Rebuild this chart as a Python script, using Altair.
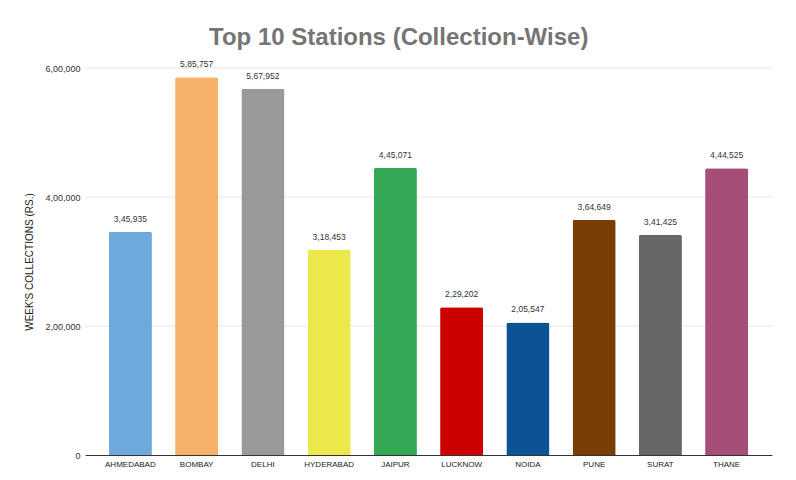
import altair as alt
import pandas as pd

stations = ["AHMEDABAD", "BOMBAY", "DELHI", "HYDERABAD", "JAIPUR",
            "LUCKNOW", "NOIDA", "PUNE", "SURAT", "THANE"]
collections = [345935, 585757, 567952, 318453, 445071,
               229202, 205547, 364649, 341425, 444525]
value_labels = ["3,45,935", "5,85,757", "5,67,952", "3,18,453", "4,45,071",
                "2,29,202", "2,05,547", "3,64,649", "3,41,425", "4,44,525"]
colors = ["#6fa8dc", "#f6b26b", "#999999", "#eae84a", "#34a853",
          "#cc0000", "#0b5394", "#783f04", "#666666", "#a64d79"]
y_ticks = [0, 200000, 400000, 600000]
y_tick_labels = ["0", "2,00,000", "4,00,000", "6,00,000"]

df = pd.DataFrame({"station": stations, "value": collections, "label": value_labels})
grid_df = pd.DataFrame({"tick": y_ticks[1:]})

label_expr = " : ".join(
    f"datum.value == {v} ? '{l}'" for v, l in zip(y_ticks, y_tick_labels)
) + " : ''"

FONT = "Liberation Sans"

x = alt.X("station:N", sort=stations, title=None,
          scale=alt.Scale(paddingInner=0.35, paddingOuter=0.36),
          axis=alt.Axis(labelAngle=0, labelFontSize=8, labelColor="#222222",
                        ticks=False, grid=False, domainColor="#333333", labelPadding=5,
                        labelFont=FONT))
y = alt.Y("value:Q", title="WEEK'S COLLECTIONS (RS.)",
          scale=alt.Scale(domain=[0, 600000], nice=False),
          axis=alt.Axis(values=y_ticks, labelExpr=label_expr, ticks=False,
                        domain=False, grid=False, labelFontSize=9,
                        labelColor="#333333", labelPadding=5, labelFont=FONT,
                        titleFont=FONT, titleFontSize=10, titleFontWeight="normal",
                        titleColor="#222222", titlePadding=10))

grid = alt.Chart(grid_df).mark_rule(color="#e6e6e6", strokeWidth=1).encode(
    y=alt.Y("tick:Q")
)

base = alt.Chart(df).encode(x=x, y=y)

bars = base.mark_bar(cornerRadiusTopLeft=2, cornerRadiusTopRight=2).encode(
    color=alt.Color("station:N", sort=stations,
                    scale=alt.Scale(domain=stations, range=colors), legend=None),
)
text = base.mark_text(dy=-13, fontSize=8.5, font=FONT, color="#333333").encode(
    text="label:N",
)

chart = alt.layer(grid, bars, text).properties(
    width=687, height=387,
    title=alt.TitleParams("Top 10 Stations (Collection-Wise)", font=FONT, fontSize=24,
                          fontWeight="bold", color="#757575", anchor="middle",
                          frame="bounds", offset=10),
    autosize=alt.AutoSizeParams(type="none"),
    padding={"left": 77, "top": 60, "right": 16, "bottom": 17},
    background="white",
).configure_view(strokeWidth=0, stroke="transparent").configure_axisX(grid=False)

chart.save("out.html", embed_options={"renderer": "svg", "actions": False})
